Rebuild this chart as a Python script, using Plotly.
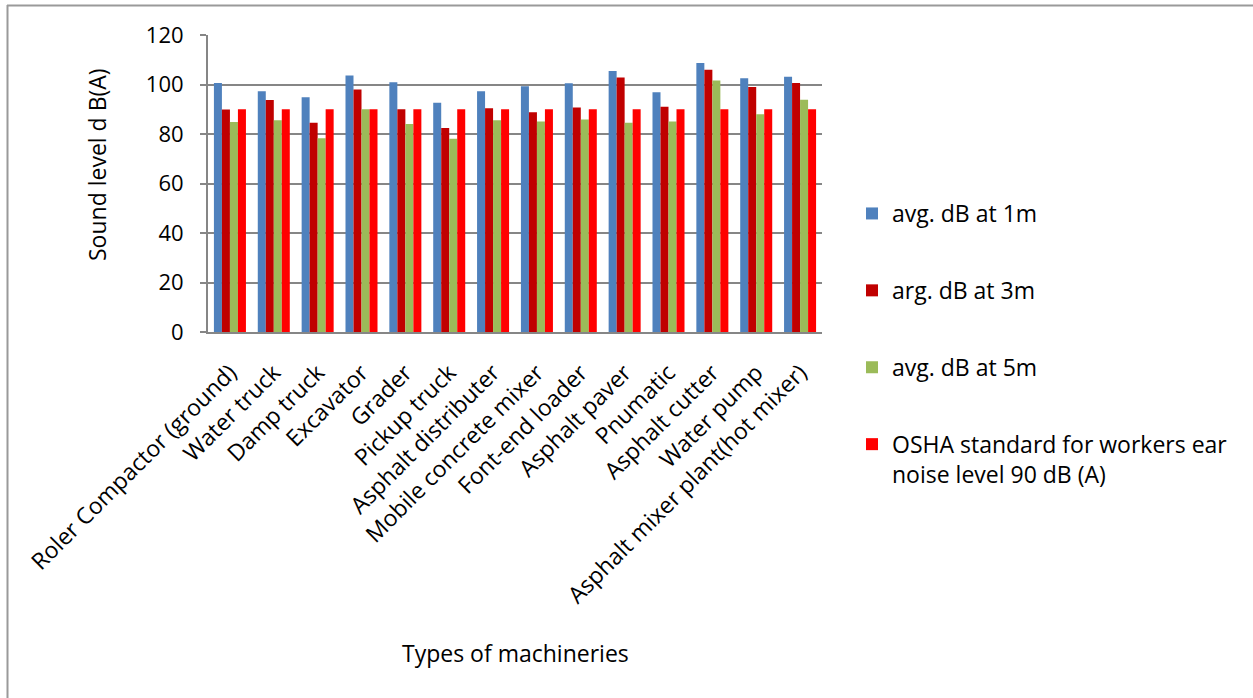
import plotly.graph_objects as go

# Machinery noise survey: average sound levels at three distances vs. OSHA limit
machines = [
    "Roler Compactor (ground)", "Water truck", "Damp truck", "Excavator", "Grader",
    "Pickup truck", "Asphalt distributer", "Mobile concrete mixer", "Font-end loader",
    "Asphalt paver", "Pnumatic", "Asphalt cutter", "Water pump",
    "Asphalt mixer plant(hot mixer)",
]
db_1m = [100.6, 97.3, 94.8, 103.6, 100.9, 92.6, 97.3, 99.3, 100.5, 105.5, 96.9, 108.7, 102.5, 103.1]
db_3m = [89.9, 93.7, 84.5, 98.0, 90.0, 82.4, 90.4, 88.8, 90.7, 102.8, 91.0, 106.0, 99.0, 100.6]
db_5m = [84.8, 85.6, 78.3, 90.0, 84.0, 78.1, 85.6, 85.1, 85.9, 84.5, 85.1, 101.6, 88.0, 93.8]
osha = [90] * len(machines)

series_names = [
    "avg. dB at 1m",
    "arg. dB at 3m",
    "avg. dB at 5m",
    "OSHA standard for workers ear<br>noise level 90 dB (A)",
]
series_values = [db_1m, db_3m, db_5m, osha]
series_colors = ["#4F81BD", "#C00000", "#9BBB59", "#FF0000"]

W, H = 1253, 698
L, R, T, B = 208, 822, 35, 332  # plot area edges in pixels


def px_x(p):
    return (p - L) / (R - L)


def px_y(p):
    return (B - p) / (B - T)


FONT = "'Open Sans', sans-serif"
FS = 23

fig = go.Figure()
for i, (name, vals, col) in enumerate(zip(series_names, series_values, series_colors)):
    fig.add_trace(go.Bar(
        x=machines, y=vals, name=name, legendgroup=str(i),
        marker=dict(color=col, line=dict(width=0)),
    ))

fig.update_layout(
    width=W, height=H,
    margin=dict(l=L, r=W - R, t=T, b=H - B),
    paper_bgcolor="white", plot_bgcolor="white",
    barmode="group", bargap=0.27, bargroupgap=0,
    font=dict(family=FONT, color="black", size=FS),
    showlegend=True,
    legend=dict(
        x=px_x(852), y=px_y(192), xanchor="left", yanchor="top",
        font=dict(family=FONT, size=FS, color="black"),
        tracegroupgap=44, valign="top", itemwidth=30,
        bgcolor="rgba(0,0,0,0)", maxheight=650,
    ),
    xaxis=dict(
        tickangle=-45, tickfont=dict(size=FS, family=FONT),
        showline=True, linecolor="#868686", linewidth=2,
        showgrid=False, ticks="", automargin=False,
        ticklabelstandoff=16,
    ),
    yaxis=dict(
        range=[0, 120], dtick=20, tickfont=dict(size=22, family=FONT),
        showgrid=True, gridcolor="#868686", gridwidth=2,
        showline=True, linecolor="#868686", linewidth=2,
        ticks="outside", ticklen=6, tickcolor="#868686", tickwidth=2,
        ticklabelstandoff=12, zeroline=False, automargin=False,
    ),
    annotations=[
        dict(text="Sound level d B(A)", x=px_x(97), y=px_y(165), xref="paper", yref="paper",
             textangle=-90, showarrow=False, xanchor="center", yanchor="middle",
             font=dict(size=FS, family=FONT)),
        dict(text="Types of machineries", x=px_x(515), y=px_y(653), xref="paper", yref="paper",
             showarrow=False, xanchor="center", yanchor="middle",
             font=dict(size=FS, family=FONT)),
    ],
    shapes=[
        dict(type="line", xref="paper", yref="paper", x0=px_x(7), x1=px_x(W + 5),
             y0=px_y(5.5), y1=px_y(5.5), line=dict(color="#9a9a9a", width=2)),
        dict(type="line", xref="paper", yref="paper", x0=px_x(7.5), x1=px_x(7.5),
             y0=px_y(5), y1=px_y(H + 5), line=dict(color="#9a9a9a", width=2)),
    ],
)

fig.write_html("out.html")
